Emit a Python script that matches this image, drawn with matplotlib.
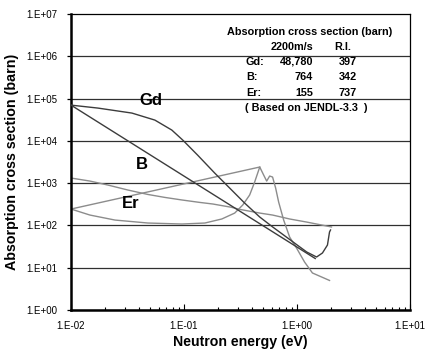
import numpy as np
import matplotlib
matplotlib.use("Agg")
import matplotlib.pyplot as plt
from matplotlib.ticker import LogLocator, FixedLocator, NullFormatter

plt.rcParams['font.family'] = ['Liberation Sans', 'DejaVu Sans']

# Gd absorption cross section (barn) vs neutron energy (eV)
gd_energy = [0.01, 0.0173, 0.0346, 0.0552, 0.078, 0.0976, 0.132, 0.187, 0.264,
             0.344, 0.468, 0.609, 1.01, 1.22, 1.49, 1.68, 1.86, 1.94, 1.98]
gd_sigma = [7.0e4, 5.96e4, 4.54e4, 3.1e4, 1.8e4, 1.04e4, 4.6e3, 1.73e3, 687,
            338, 158, 92, 34, 23.5, 17.9, 22.3, 34.4, 70, 78]

# B, straight 1/v line
b_energy = [0.01, 1.45]
b_sigma = [7.0e4, 16.5]

# Er resonance curve
er_energy = [0.01, 0.0147, 0.0245, 0.0479, 0.0957, 0.153, 0.216, 0.281, 0.331,
             0.381, 0.422, 0.468, 0.507, 0.539, 0.573, 0.608, 0.647, 0.688,
             0.762, 0.861, 0.992, 1.167, 1.37, 1.94]
er_sigma = [244, 176, 134, 114, 108, 114, 142, 196, 304,
            524, 1062, 2405, 1553, 1120, 1473, 1394, 766, 357,
            134, 53, 29, 13.6, 7.5, 5.0]
# closing segment from the first point to the resonance peak
er_link_energy = [0.01, 0.468]
er_link_sigma = [244, 2405]

# second light curve
lc_energy = [0.01, 0.0147, 0.0212, 0.0319, 0.0479, 0.0676, 0.0957, 0.138,
             0.180, 0.260, 0.311, 0.468, 0.608, 0.861, 1.22, 2.02]
lc_sigma = [1320, 1120, 902, 687, 540, 460, 400, 350,
            321, 270, 240, 196, 176, 142, 120, 92]

table_head = ["2200m/s", "R.I."]
table_rows = ["Gd:", "B:", "Er:"]
table_2200 = ["48,780", "764", "155"]
table_ri = ["397", "342", "737"]

fig = plt.figure(figsize=(4.29, 3.52), dpi=100)
ax = fig.add_axes([71 / 429, 1 - 310 / 352, 339 / 429, 296 / 352])

dark = '#3c3c3c'
light = '#8c8c8c'

ax.set_xscale('log')
ax.set_yscale('log')
ax.set_xlim(1e-2, 1e1)
ax.set_ylim(1e0, 1e7)

for k in range(0, 7):
    ax.axhline(10.0 ** k, color='#303030', lw=0.9, zorder=1)

ax.plot(lc_energy, lc_sigma, color=light, lw=1.0, zorder=2)
ax.plot(er_energy, er_sigma, color=light, lw=1.0, zorder=2)
ax.plot(er_link_energy, er_link_sigma, color=light, lw=1.0, zorder=2)
ax.plot(b_energy, b_sigma, color=dark, lw=1.0, zorder=3)
ax.plot(gd_energy, gd_sigma, color=dark, lw=1.0, zorder=3)

ax.text(0.0509, 9.2e4, "Gd", fontsize=12, fontweight='bold', ha='center', va='center')
ax.text(0.0424, 2.8e3, "B", fontsize=12, fontweight='bold', ha='center', va='center')
ax.text(0.0339, 339, "Er", fontsize=12, fontweight='bold', ha='center', va='center')

tkw = dict(transform=ax.transAxes, fontsize=7.8, fontweight='bold', va='center')
ax.text(0.705, 0.939, "Absorption cross section (barn)", ha='center', **tkw)
ax.text(0.652, 0.889, table_head[0], ha='center', **tkw)
ax.text(0.802, 0.889, table_head[1], ha='center', **tkw)
for i, (name, v1, v2) in enumerate(zip(table_rows, table_2200, table_ri)):
    yy = 0.838 - i * 0.052
    ax.text(0.516, yy, name, ha='left', **tkw)
    ax.text(0.714, yy, v1, ha='right', **tkw)
    ax.text(0.844, yy, v2, ha='right', **tkw)
ax.text(0.513, 0.682, "( Based on JENDL-3.3  )", ha='left', **tkw)

ax.xaxis.set_major_locator(FixedLocator([1e-2, 1e-1, 1e0, 1e1]))
ax.xaxis.set_minor_locator(LogLocator(base=10, subs=np.arange(2, 10)))
ax.xaxis.set_minor_formatter(NullFormatter())
ax.set_xticklabels(["1.E-02", "1.E-01", "1.E+00", "1.E+01"])
ax.yaxis.set_major_locator(FixedLocator([10.0 ** k for k in range(8)]))
ax.yaxis.set_minor_locator(FixedLocator([]))
ax.set_yticklabels(["1.E+%02d" % k for k in range(8)])

ax.tick_params(axis='x', which='major', direction='in', length=4, width=0.8,
               labelsize=7, pad=8)
ax.tick_params(axis='x', which='minor', direction='in', length=2.5, width=0.8)
ax.tick_params(axis='y', which='major', direction='out', length=3, width=0.9,
               labelsize=7, pad=7)

ax.spines['left'].set_linewidth(1.8)
ax.spines['bottom'].set_linewidth(1.8)
ax.spines['top'].set_linewidth(0.9)
ax.spines['right'].set_linewidth(0.9)

ax.set_xlabel("Neutron energy (eV)", fontsize=10.2, fontweight='bold', labelpad=3)
ax.set_ylabel("Absorption cross section (barn)", fontsize=10.3, fontweight='bold', labelpad=5)

fig.savefig("out.png", dpi=100)
